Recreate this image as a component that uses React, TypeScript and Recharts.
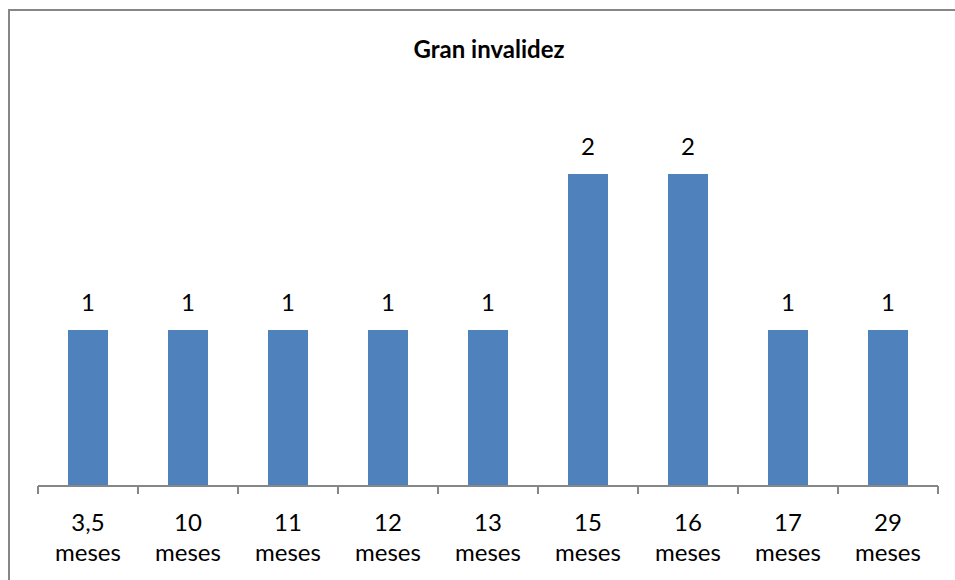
import React from "react";
import { BarChart, Bar, XAxis, YAxis, LabelList } from "recharts";

const categories = ["3,5 meses", "10 meses", "11 meses", "12 meses", "13 meses", "15 meses", "16 meses", "17 meses", "29 meses"];
const values = [1, 1, 1, 1, 1, 2, 2, 1, 1];
const title = "Gran invalidez";

const data = categories.map((c, i) => ({ name: c, value: values[i] }));

const FONT = "Lato, 'Open Sans', sans-serif";
const PLOT_W = 900;

const CustomTick = (props: any) => {
  const { x, y, payload, index } = props;
  const step = PLOT_W / categories.length;
  const parts = String(payload.value).split(" ");
  const axisY = y - 8;
  return (
    <g>
      <line x1={x - step / 2} y1={axisY} x2={x - step / 2} y2={axisY + 8} stroke="#868686" strokeWidth={2} />
      {index === categories.length - 1 && (
        <line x1={x + step / 2} y1={axisY} x2={x + step / 2} y2={axisY + 8} stroke="#868686" strokeWidth={2} />
      )}
      <text x={x} y={axisY + 45} textAnchor="middle" fontSize={24} fontFamily={FONT} fill="#000">
        {parts[0]}
      </text>
      <text x={x} y={axisY + 75} textAnchor="middle" fontSize={24} fontFamily={FONT} fill="#000">
        {parts[1]}
      </text>
    </g>
  );
};

export default function App() {
  return (
    <div style={{ position: "absolute", left: 0, top: 0, width: 955, height: 580, background: "#fff", overflow: "hidden" }}>
      <div style={{ position: "absolute", left: 8, top: 9, width: 970, height: 600, border: "2px solid #868686", boxSizing: "border-box" }} />
      <div style={{ position: "absolute", left: 0, top: 34, width: 978, textAlign: "center", fontFamily: FONT, fontWeight: "bold", fontSize: 24, lineHeight: "30px", color: "#000" }}>
        {title}
      </div>
      <div style={{ position: "absolute", left: 0, top: 0 }}>
        <BarChart width={955} height={580} data={data} margin={{ top: 96, right: 17, left: 38, bottom: 0 }} barCategoryGap="30%">
          <XAxis
            dataKey="name"
            height={94}
            interval={0}
            axisLine={{ stroke: "#868686", strokeWidth: 2 }}
            tickLine={false}
            tick={<CustomTick />}
          />
          <YAxis hide domain={[0, 2.5]} />
          <Bar dataKey="value" fill="#4F81BD" isAnimationActive={false}>
            <LabelList dataKey="value" position="top" offset={19} fontSize={24} fontFamily={FONT} fill="#000" />
          </Bar>
        </BarChart>
      </div>
    </div>
  );
}
